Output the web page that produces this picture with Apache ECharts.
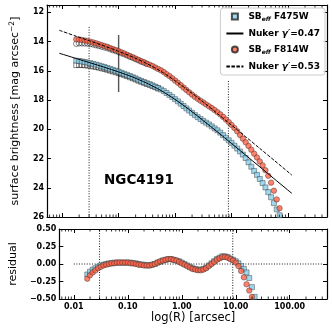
<!DOCTYPE html>
<html>
<head>
<meta charset="utf-8">
<script src="https://cdn.jsdelivr.net/npm/echarts@6/dist/echarts.min.js"></script>
<style>
  html, body { margin: 0; padding: 0; background: #fff; }
  #chart { width: 332px; height: 328px; }
</style>
</head>
<body>
<div id="chart"></div>
<script>
// isophote radii [arcsec]
const radius = [
  0.01778, 0.01995, 0.02239, 0.02512, 0.02818, 0.03162, 0.03548, 0.03981, 0.04467, 0.05012,
  0.05623, 0.06310, 0.07079, 0.07943, 0.08913, 0.1000, 0.1122, 0.1259, 0.1413, 0.1585,
  0.1778, 0.1995, 0.2239, 0.2512, 0.2818, 0.3162, 0.3548, 0.3981, 0.4467, 0.5012,
  0.5623, 0.6310, 0.7079, 0.7943, 0.8913, 1.000, 1.122, 1.259, 1.413, 1.585,
  1.778, 1.995, 2.239, 2.512, 2.818, 3.162, 3.548, 3.981, 4.467, 5.012,
  5.623, 6.310, 7.079, 7.943, 8.913, 10.00, 11.22, 12.59, 14.13, 15.85,
  17.78, 19.95, 22.39, 25.12, 28.18, 31.62, 35.48, 39.81, 44.67, 50.12,
  56.23, 63.10, 70.79
];

// effective surface brightness [mag arcsec^-2]
const sbF814W = [
  13.85, 13.86, 13.89, 13.93, 13.96, 14.01, 14.06, 14.12, 14.18, 14.24,
  14.30, 14.36, 14.44, 14.51, 14.58, 14.65, 14.74, 14.81, 14.90, 14.99,
  15.07, 15.16, 15.25, 15.34, 15.42, 15.51, 15.59, 15.67, 15.77, 15.87,
  15.97, 16.09, 16.23, 16.36, 16.51, 16.67, 16.82, 16.98, 17.15, 17.31,
  17.47, 17.63, 17.78, 17.92, 18.05, 18.17, 18.30, 18.43, 18.55, 18.69,
  18.83, 18.98, 19.15, 19.33, 19.51, 19.70, 19.91, 20.14, 20.39, 20.64,
  20.89, 21.14, 21.40, 21.67, 21.93, 22.20, 22.47, 22.80, 23.18, 23.65,
  24.20, 24.80, 25.40
];
const sbF475W = [
  15.31, 15.33, 15.36, 15.40, 15.44, 15.48, 15.53, 15.58, 15.63, 15.69,
  15.74, 15.81, 15.87, 15.93, 16.00, 16.06, 16.13, 16.21, 16.28, 16.36,
  16.44, 16.52, 16.61, 16.69, 16.77, 16.85, 16.92, 17.00, 17.09, 17.18,
  17.28, 17.39, 17.52, 17.65, 17.79, 17.94, 18.09, 18.25, 18.41, 18.57,
  18.72, 18.88, 19.03, 19.17, 19.30, 19.43, 19.55, 19.67, 19.80, 19.94,
  20.07, 20.23, 20.40, 20.58, 20.75, 20.93, 21.12, 21.32, 21.52, 21.73,
  21.97, 22.26, 22.56, 22.85, 23.12, 23.40, 23.68, 23.98, 24.30, 24.65,
  25.05, 25.48, 25.88
];

// observed (not PSF corrected) inner profile, open symbols
const sbRawF814W = [
  14.15, 14.12, 14.12, 14.13, 14.14, 14.17, 14.20, 14.25, 14.30, 14.35,
  14.40, 14.45, 14.52, 14.59, 14.65, 14.72, 14.80, 14.87, 14.95, 15.04,
  15.11, 15.20, 15.28, 15.37, 15.44, 15.53
];
const sbRawF475W = [
  15.61, 15.60, 15.60, 15.62, 15.64, 15.66, 15.70, 15.74, 15.78, 15.83,
  15.87, 15.93, 15.99, 16.04, 16.10, 16.16, 16.22, 16.30, 16.36, 16.44,
  16.51, 16.59, 16.67, 16.75, 16.82, 16.90, 16.96, 17.04, 17.12, 17.21
];

// residuals (model - data), same radii
const residF814W = [
  -0.21, -0.16, -0.12, -0.09, -0.06, -0.04, -0.02, -0.01, 0.00, 0.01,
  0.01, 0.02, 0.02, 0.02, 0.02, 0.02, 0.01, 0.01, 0.00, -0.01,
  -0.01, -0.02, -0.02, -0.02, -0.01, 0.00, 0.02, 0.04, 0.05, 0.06,
  0.07, 0.07, 0.06, 0.05, 0.03, 0.01, -0.01, -0.03, -0.05, -0.07,
  -0.08, -0.09, -0.09, -0.08, -0.06, -0.03, 0.00, 0.03, 0.06, 0.08,
  0.10, 0.10, 0.09, 0.07, 0.05, 0.02, -0.03, -0.10, -0.19, -0.29,
  -0.38, -0.47
];
const residF475W = [
  -0.15, -0.11, -0.08, -0.06, -0.04, -0.02, -0.01, 0.00, 0.01, 0.01,
  0.02, 0.02, 0.02, 0.02, 0.02, 0.02, 0.02, 0.01, 0.01, 0.00,
  -0.01, -0.01, -0.02, -0.02, -0.01, 0.00, 0.02, 0.03, 0.05, 0.06,
  0.07, 0.07, 0.06, 0.05, 0.04, 0.02, 0.00, -0.02, -0.04, -0.06,
  -0.07, -0.08, -0.08, -0.07, -0.05, -0.02, 0.01, 0.04, 0.07, 0.09,
  0.11, 0.11, 0.10, 0.08, 0.06, 0.04, 0.01, -0.03, -0.07, -0.12,
  -0.20, -0.33, -0.47
];

// Nuker fits
const nukerR = [0.008913, 0.01778, 0.03162, 0.05623, 0.1, 0.1778, 0.3162, 0.5623, 1, 1.778, 3.162, 5.623, 10, 17.78, 31.62, 56.23, 117.5];
const nukerF475W = [14.80, 15.16, 15.46, 15.76, 16.08, 16.43, 16.85, 17.35, 17.96, 18.65, 19.41, 20.18, 20.97, 21.77, 22.57, 23.37, 24.39];
const nukerF814W = [13.23, 13.64, 13.97, 14.31, 14.67, 15.06, 15.51, 16.04, 16.68, 17.39, 18.14, 18.93, 19.72, 20.51, 21.31, 22.11, 23.14];

// fit range and resolution markers
const fitLimitsR = [0.03, 8.8];
const innerLimitSB = [13.0, 26];
const outerLimitSB = [16.7, 26];
const psfR = 0.1;
const psfSB = [13.55, 17.45];
const zeroLineR = [0.01, 400];

// ticks
const sbTicks = [12, 14, 16, 18, 20, 22, 24, 26];
const minorTicksR = [
  0.006, 0.007, 0.008, 0.009, 0.02, 0.03, 0.04, 0.05, 0.06, 0.07, 0.08, 0.09,
  0.2, 0.3, 0.4, 0.5, 0.6, 0.7, 0.8, 0.9, 2, 3, 4, 5, 6, 7, 8, 9,
  20, 30, 40, 50, 60, 70, 80, 90, 200, 300, 400
];

const FONT = 'DejaVu Sans';
const BLUE = '#87ceeb';
const RED = '#ff6347';
const xMin = 0.0054;
const xMax = 490;

const pts = (xs, ys) => ys.map((y, i) => [xs[i], y]);

function logAxis(gridIndex, position, showLabels) {
  return {
    type: 'log', logBase: 10, gridIndex, position, min: xMin, max: xMax,
    axisLine: { show: true, onZero: false, lineStyle: { color: '#000', width: 1.2 } },
    axisTick: { show: true, inside: true, length: 4, lineStyle: { color: '#000', width: 1 } },
    axisLabel: {
      show: showLabels, showMinLabel: false, showMaxLabel: false, margin: 4,
      color: '#000', fontFamily: FONT, fontWeight: 'bold', fontSize: 8,
      formatter: v => v.toFixed(2)
    },
    splitLine: { show: false }
  };
}

function frameAxis(gridIndex, position, extra) {
  return Object.assign({
    type: 'value', gridIndex, position,
    axisLine: { show: true, onZero: false, lineStyle: { color: '#000', width: 1.2 } },
    axisTick: { show: true, inside: true, length: 4, lineStyle: { color: '#000', width: 1 } },
    axisLabel: { show: false },
    splitLine: { show: false }
  }, extra);
}

const tickLabel = { color: '#000', fontFamily: FONT, fontWeight: 'bold', fontSize: 8, margin: 3 };

function minorTicks(xIdx, yIdx, yEdge, dir) {
  return {
    type: 'scatter', xAxisIndex: xIdx, yAxisIndex: yIdx, silent: true, clip: false,
    symbol: 'rect', symbolSize: [1, 2.5], symbolOffset: [0, dir * 1.25],
    itemStyle: { color: '#000' }, z: 6,
    data: minorTicksR.map(r => [r, yEdge])
  };
}

function vline(xIdx, yIdx, r, ys, style) {
  return {
    type: 'line', xAxisIndex: xIdx, yAxisIndex: yIdx, silent: true, symbol: 'none', z: 1,
    data: [[r, ys[0]], [r, ys[1]]], lineStyle: style
  };
}

const dotted = { color: '#000', width: 0.9, type: [1, 1.6] };
const edge = { borderColor: '#222', borderWidth: 0.5 };
const square = 'path://M0,0H10V10H0Z';

const legendLabels = {
  'SB F475W': '{b|SB}{s|eff}{b| F475W}',
  'Nuker 0.47': '{b|Nuker }{g|γ′}{b|=0.47}',
  'SB F814W': '{b|SB}{s|eff}{b| F814W}',
  'Nuker 0.53': '{b|Nuker }{g|γ′}{b|=0.53}'
};

const chart = echarts.init(document.getElementById('chart'));
chart.setOption({
  animation: false,
  backgroundColor: '#fff',
  title: {
    text: 'NGC4191', left: 104, top: 173, padding: 0,
    textStyle: { fontFamily: FONT, fontWeight: 'bold', fontSize: 13.5, color: '#000' }
  },
  legend: {
    data: [
      { name: 'SB F475W', icon: square },
      { name: 'Nuker 0.47', itemStyle: { opacity: 0 } },
      { name: 'SB F814W', icon: 'circle' },
      { name: 'Nuker 0.53', itemStyle: { opacity: 0 } }
    ],
    orient: 'vertical', right: 7, top: 8,
    itemWidth: 17, itemHeight: 6, itemGap: 7,
    padding: [4, 5, 4, 5],
    backgroundColor: 'rgba(255,255,255,0.85)', borderColor: '#ccc', borderWidth: 1, borderRadius: 3,
    formatter: name => legendLabels[name],
    textStyle: {
      color: '#000', fontFamily: FONT, fontWeight: 'bold', fontSize: 9,
      rich: {
        b: { fontFamily: FONT, fontWeight: 'bold', fontSize: 9, lineHeight: 11 },
        s: { fontFamily: FONT, fontWeight: 'bold', fontStyle: 'italic', fontSize: 6, verticalAlign: 'bottom', lineHeight: 9 },
        g: { fontFamily: FONT, fontWeight: 'bold', fontStyle: 'italic', fontSize: 9, lineHeight: 11 }
      }
    }
  },
  grid: [
    { left: 47, right: 5, top: 5, height: 212 },
    { left: 47, right: 5, top: 229, height: 70 }
  ],
  xAxis: [
    logAxis(0, 'bottom', false),
    logAxis(0, 'top', false),
    Object.assign(logAxis(1, 'bottom', true), {
      name: 'log(R) [arcsec]', nameLocation: 'middle', nameGap: 13,
      nameTextStyle: { fontFamily: FONT, fontSize: 11.5, color: '#000' }
    }),
    logAxis(1, 'top', false)
  ],
  yAxis: [
    frameAxis(0, 'left', {
      inverse: true, min: 11.5, max: 26,
      axisTick: { show: true, inside: true, length: 4, customValues: sbTicks, lineStyle: { color: '#000', width: 1 } },
      axisLabel: Object.assign({ show: true, customValues: sbTicks, formatter: v => String(v) }, tickLabel),
      name: 'surface brightness [mag arcsec{sup|−2}]', nameLocation: 'middle', nameGap: 16,
      nameTextStyle: {
        fontFamily: FONT, fontSize: 11, color: '#000', lineHeight: 14,
        rich: { sup: { fontFamily: FONT, fontSize: 7.5, verticalAlign: 'top', lineHeight: 14 } }
      }
    }),
    frameAxis(0, 'right', {
      inverse: true, min: 11.5, max: 26,
      axisTick: { show: true, inside: true, length: 4, customValues: sbTicks, lineStyle: { color: '#000', width: 1 } }
    }),
    frameAxis(1, 'left', {
      min: -0.5, max: 0.5, interval: 0.25,
      axisLabel: Object.assign({ show: true, formatter: v => (v < 0 ? '−' : '') + Math.abs(v).toFixed(2) }, tickLabel),
      name: 'residual', nameLocation: 'middle', nameGap: 30,
      nameTextStyle: { fontFamily: FONT, fontSize: 11, color: '#000' }
    }),
    frameAxis(1, 'right', { min: -0.5, max: 0.5, interval: 0.25 })
  ],
  series: [
    // upper panel
    vline(0, 0, fitLimitsR[0], innerLimitSB, dotted),
    vline(0, 0, fitLimitsR[1], outerLimitSB, dotted),
    vline(0, 0, psfR, psfSB, { color: '#555', width: 1.4 }),
    {
      name: 'Nuker 0.47', type: 'line', xAxisIndex: 0, yAxisIndex: 0, symbol: 'none', smooth: 0.3,
      data: pts(nukerR, nukerF475W), lineStyle: { color: '#000', width: 1 }, itemStyle: { color: '#000' }
    },
    {
      name: 'Nuker 0.53', type: 'line', xAxisIndex: 0, yAxisIndex: 0, symbol: 'none', smooth: 0.3,
      data: pts(nukerR, nukerF814W), lineStyle: { color: '#000', width: 1, type: [3.5, 1.5] }, itemStyle: { color: '#000' }
    },
    {
      type: 'scatter', xAxisIndex: 0, yAxisIndex: 0, symbol: 'rect', symbolSize: 5,
      data: pts(radius, sbRawF475W), itemStyle: { color: 'transparent', borderColor: '#000', borderWidth: 0.6 }
    },
    {
      name: 'SB F475W', type: 'scatter', xAxisIndex: 0, yAxisIndex: 0, symbol: 'rect', symbolSize: 5,
      data: pts(radius, sbF475W), itemStyle: Object.assign({ color: BLUE }, edge)
    },
    {
      type: 'scatter', xAxisIndex: 0, yAxisIndex: 0, symbol: 'circle', symbolSize: 5.5,
      data: pts(radius, sbRawF814W), itemStyle: { color: 'transparent', borderColor: '#000', borderWidth: 0.6 }
    },
    {
      name: 'SB F814W', type: 'scatter', xAxisIndex: 0, yAxisIndex: 0, symbol: 'circle', symbolSize: 5.5,
      data: pts(radius, sbF814W), itemStyle: Object.assign({ color: RED }, edge)
    },
    minorTicks(0, 0, 26, -1),
    minorTicks(1, 0, 11.5, 1),

    // residual panel
    vline(2, 2, fitLimitsR[0], [-0.5, 0.5], dotted),
    vline(2, 2, fitLimitsR[1], [-0.5, 0.5], dotted),
    {
      type: 'line', xAxisIndex: 2, yAxisIndex: 2, silent: true, symbol: 'none', z: 1,
      data: zeroLineR.map(r => [r, 0]), lineStyle: dotted
    },
    {
      type: 'scatter', xAxisIndex: 2, yAxisIndex: 2, symbol: 'rect', symbolSize: 5,
      data: pts(radius, residF475W), itemStyle: Object.assign({ color: BLUE }, edge)
    },
    {
      type: 'scatter', xAxisIndex: 2, yAxisIndex: 2, symbol: 'circle', symbolSize: 5.5,
      data: pts(radius, residF814W), itemStyle: Object.assign({ color: RED }, edge)
    },
    minorTicks(2, 2, -0.5, -1),
    minorTicks(3, 2, 0.5, 1)
  ]
});
</script>
</body>
</html>
